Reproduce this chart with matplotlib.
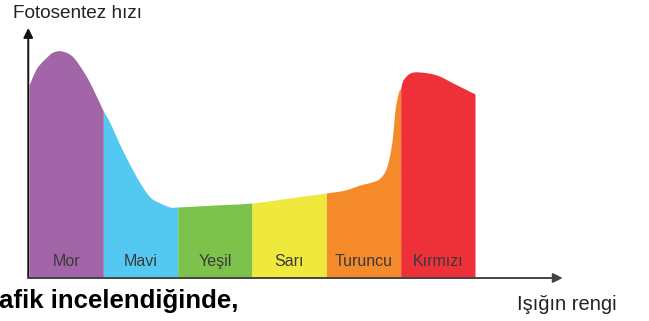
import numpy as np
import matplotlib
matplotlib.use("Agg")
import matplotlib.pyplot as plt

# light colours in spectrum order, one band per colour
colors_tr = ["Mor", "Mavi", "Yeşil", "Sarı", "Turuncu", "Kırmızı"]
band_colors = ["#A165A8", "#53C9F1", "#7DC24A", "#EFE83D", "#F58A2A", "#EE3039"]

# photosynthesis rate along the spectrum (x in band widths, rate in arbitrary units)
rate_x = [0.0, 0.104, 0.238, 0.323, 0.44, 0.592, 0.776, 0.911, 1.0,
          1.09, 1.224, 1.359, 1.493, 1.628, 1.762, 1.897, 2.0,
          2.5, 3.0, 3.5, 4.0, 4.25, 4.453, 4.61, 4.722, 4.812, 4.88, 4.924, 4.968, 5.0,
          5.032, 5.126, 5.26, 5.485, 5.704, 6.0]
rate_y = [193, 210, 221, 226, 227, 221, 201, 181, 167,
          155, 133, 113, 95, 81, 75, 71, 71,
          73, 75, 80, 85, 88, 93, 96, 100, 111, 135, 168, 185, 190,
          198, 205, 206, 203, 195, 184]


def smooth(xs, ys, n=12):
    # Catmull-Rom through the points, knots kept exactly
    p = np.column_stack([xs, ys]).astype(float)
    p = np.vstack([p[0], p, p[-1]])
    out = []
    t = np.linspace(0, 1, n, endpoint=False)[:, None]
    for k in range(1, len(p) - 2):
        p0, p1, p2, p3 = p[k - 1], p[k], p[k + 1], p[k + 2]
        seg = 0.5 * ((2 * p1) + (-p0 + p2) * t + (2 * p0 - 5 * p1 + 4 * p2 - p3) * t ** 2
                     + (-p0 + 3 * p1 - 3 * p2 + p3) * t ** 3)
        out.append(seg)
    out.append(p[-2][None, :])
    out = np.vstack(out)
    return out[:, 0], out[:, 1]


px = 74.33  # pixels per band
fig = plt.figure(figsize=(6.49, 3.21), dpi=100)
ax = fig.add_axes([0, 0, 1, 1])
ax.set_xlim(-29 / px, 620 / px)
ax.set_ylim(-43, 278)
ax.axis("off")

x, y = smooth(rate_x, rate_y)
for i, (name, c) in enumerate(zip(colors_tr, band_colors)):
    m = (x >= i - 1e-9) & (x <= i + 1 + 1e-9)
    ax.fill_between(x[m], 0, y[m], color=c, lw=0)
    ax.text(i + 0.5, 12, name, ha="center", va="baseline", fontsize=11.5,
            color="#3a3a3a", family="Liberation Sans")

# axes with arrow heads
ax.annotate("", xy=(-0.01, 250), xytext=(-0.01, 0),
            arrowprops=dict(arrowstyle="-|>", color="#111111", lw=1.4,
                            mutation_scale=14, shrinkA=0, shrinkB=0))
ax.annotate("", xy=(7.18, 0), xytext=(-0.01, 0),
            arrowprops=dict(arrowstyle="-|>", color="#444444", lw=1.4,
                            mutation_scale=14, shrinkA=0, shrinkB=0))

ax.text(-16 / px, 264, "Fotosentez hızı", ha="left", va="center", fontsize=13.7,
        color="#222222", family="Liberation Sans")
ax.text(488 / px, -27, "Işığın rengi", ha="left", va="center", fontsize=14.5,
        color="#222222", family="Liberation Sans")
ax.text(-30 / px, -23, "afik incelendiğinde,", ha="left", va="center", fontsize=18.6,
        fontweight="bold", color="#000000", family="Liberation Sans")

fig.savefig("out.png", dpi=100)
